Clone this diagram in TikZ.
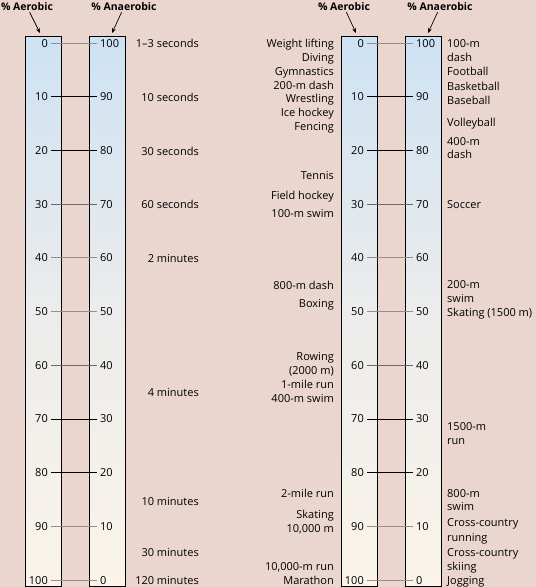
\documentclass[tikz,border=0pt]{standalone}
\usepackage{fontspec}
\setmainfont{Open Sans}
\usetikzlibrary{arrows.meta,positioning}

\definecolor{bgpink}{RGB}{234,214,207}
\definecolor{bartop}{RGB}{206,226,243}
\definecolor{barmid}{RGB}{236,236,236}
\definecolor{barbot}{RGB}{250,244,234}
\definecolor{tickgray}{RGB}{150,142,138}
\definecolor{tickdark}{RGB}{105,105,105}

\begin{document}
\begin{tikzpicture}[x=1pt, y=-1pt,
    bar/.style={draw, line width=0.9pt, minimum width=36pt, minimum height=550pt, anchor=north west,
      top color=bartop, bottom color=barbot, middle color=barmid},
    lbl/.style={inner sep=0pt, text height=8pt, text depth=0pt, font=\fontsize{11}{12}\selectfont},
    num/.style={lbl, inner xsep=3pt},
    head/.style={inner sep=1pt, font=\bfseries\fontsize{10.5}{12}\selectfont},
    arr/.style={-{Stealth[length=5pt, width=4pt]}, line width=0.7pt},
    tick/.style={line width=0.8pt}
]
\useasboundingbox (0,0) rectangle (536,587);
\fill[bgpink] (0,0) rectangle (536,587);

% bars
\node[bar] (aerL) at (24.5,36) {};
\node[bar] (anaL) at (88.5,36) {};
\node[bar] (aerR) at (341,36) {};
\node[bar] (anaR) at (405,36) {};

% headers
\node[head] (hAerL) at (27,7) {\% Aerobic};
\node[head] (hAnaL) at (124,7) {\% Anaerobic};
\node[head] (hAerR) at (344,7) {\% Aerobic};
\node[head] (hAnaR) at (440,7) {\% Anaerobic};
\coordinate (tAerL) at (40,33);
\coordinate (tAnaL) at (112,33);
\coordinate (tAerR) at (356,33);
\coordinate (tAnaR) at (428,33);
\draw[arr] (hAerL) -- (tAerL);
\draw[arr] (hAnaL) -- (tAnaL);
\draw[arr] (hAerR) -- (tAerR);
\draw[arr] (hAnaR) -- (tAnaR);

% scale ticks
\foreach \v/\tc [count=\i from 0] in {0/tickgray,10/black,20/black,30/tickdark,40/tickgray,50/tickgray,
    60/tickdark,70/black,80/black,90/tickgray,100/tickgray} {
  \pgfmathsetmacro\ty{43+\i*53.7}
  \pgfmathtruncatemacro\w{100-\v}
  \node[num, anchor=east] (aL\v) at (51,\ty) {\v};
  \node[num, anchor=west] (nL\v) at (97,\ty) {\w};
  \node[num, anchor=east] (aR\v) at (367,\ty) {\v};
  \node[num, anchor=west] (nR\v) at (413,\ty) {\w};
  \draw[tick, draw=\tc] (aL\v) -- (nL\v);
  \draw[tick, draw=\tc] (aR\v) -- (nR\v);
}

% durations
\foreach \ty/\txt [count=\i] in {43/1--3 seconds, 97/10 seconds, 151/30 seconds, 204/60 seconds,
    258/2 minutes, 392/4 minutes, 501/10 minutes, 552/30 minutes, 580/120 minutes}
  \node[lbl, anchor=east] (dur\i) at (199,\ty) {\txt};

% sports, high aerobic share side
\foreach \ty/\txt [count=\i] in {43/Weight lifting, 57/Diving, 71/Gymnastics, 85/200-m dash,
    98/Wrestling, 112/Ice hockey, 126/Fencing, 175/Tennis, 195/Field hockey, 213/100-m swim,
    285/800-m dash, 303/Boxing, 356/Rowing, 370/(2000 m), 384/1-mile run, 398/400-m swim,
    493/2-mile run, 514/Skating, 528/{10,000 m}, 566/{10,000-m run}, 580/Marathon}
  \node[lbl, anchor=east] (spL\i) at (334,\ty) {\txt};

% sports, anaerobic side
\foreach \ty/\txt [count=\i] in {43/100-m, 57/dash, 71/Football, 86/Basketball, 100/Baseball,
    122/Volleyball, 141/400-m, 154/dash, 204/Soccer, 284/200-m, 298/swim, 312/Skating (1500 m),
    426/1500-m, 440/run, 493/800-m, 506/swim, 522/Cross-country, 537/running,
    552/Cross-country, 566/skiing, 580/Jogging}
  \node[lbl, anchor=west] (spR\i) at (447,\ty) {\txt};
\end{tikzpicture}
\end{document}
